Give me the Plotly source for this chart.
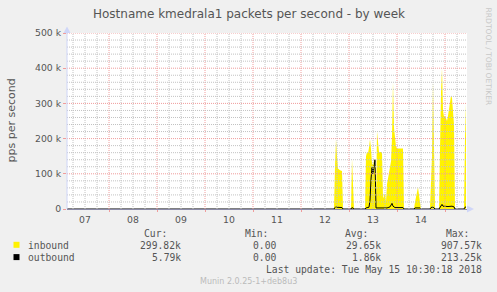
import plotly.graph_objects as go
import pandas as pd

# ---------------- data ----------------
title_text = "Hostname kmedrala1 packets per second - by week"
y_title = "pps per second"
x_range = ["2018-05-07 03:00", "2018-05-15 11:00"]
y_tickvals = [0, 100000, 200000, 300000, 400000, 500000]
y_ticktext = ["0", "100 k", "200 k", "300 k", "400 k", "500 k"]

inbound_times = [
    "2018-05-07 03:00", "2018-05-12 16:30", "2018-05-12 17:00", "2018-05-12 17:30",
    "2018-05-12 18:00", "2018-05-12 18:30", "2018-05-12 19:30", "2018-05-12 20:30",
    "2018-05-12 21:00", "2018-05-13 01:00", "2018-05-13 01:30", "2018-05-13 02:00",
    "2018-05-13 02:30", "2018-05-13 08:00", "2018-05-13 08:30", "2018-05-13 09:00",
    "2018-05-13 09:30", "2018-05-13 10:00", "2018-05-13 10:30", "2018-05-13 11:00",
    "2018-05-13 11:30", "2018-05-13 12:00", "2018-05-13 12:30", "2018-05-13 13:00",
    "2018-05-13 13:30", "2018-05-13 14:00", "2018-05-13 14:30", "2018-05-13 15:00",
    "2018-05-13 16:30", "2018-05-13 17:00", "2018-05-13 18:00", "2018-05-13 18:30",
    "2018-05-13 19:00", "2018-05-13 20:00", "2018-05-13 21:00", "2018-05-13 21:30",
    "2018-05-13 22:00", "2018-05-13 22:30", "2018-05-13 23:00", "2018-05-13 23:30",
    "2018-05-14 00:00", "2018-05-14 03:00", "2018-05-14 03:30", "2018-05-14 08:30",
    "2018-05-14 09:00", "2018-05-14 09:30", "2018-05-14 10:00", "2018-05-14 10:30",
    "2018-05-14 11:00", "2018-05-14 11:30", "2018-05-14 12:00", "2018-05-14 16:30",
    "2018-05-14 17:00", "2018-05-14 17:30", "2018-05-14 18:00", "2018-05-14 18:30",
    "2018-05-14 19:00", "2018-05-14 21:00", "2018-05-14 21:30", "2018-05-14 22:00",
    "2018-05-14 22:30", "2018-05-14 23:00", "2018-05-14 23:30", "2018-05-15 00:00",
    "2018-05-15 00:30", "2018-05-15 01:00", "2018-05-15 01:30", "2018-05-15 02:00",
    "2018-05-15 02:30", "2018-05-15 03:00", "2018-05-15 03:30", "2018-05-15 04:00",
    "2018-05-15 04:30", "2018-05-15 05:00", "2018-05-15 09:30", "2018-05-15 10:00",
    "2018-05-15 10:30",
]
inbound_kpps = [
    0, 0, 120, 198,
    150, 115, 110, 108,
    0, 0, 143, 90,
    0, 0, 150, 162,
    158, 175, 198, 170,
    130, 125, 138, 140,
    0, 220, 185, 162,
    162, 30, 45, 20,
    70, 100, 135, 200,
    360, 230, 195, 178,
    172, 172, 0, 0,
    20, 35, 50, 62,
    40, 25, 0, 0,
    60, 150, 360, 120,
    0, 0, 180, 330,
    400, 280, 262, 265,
    258, 250, 265, 290,
    310, 322, 315, 270,
    240, 0, 0, 200,
    300,
]

outbound_times = [
    "2018-05-07 03:00", "2018-05-12 16:30", "2018-05-12 17:00", "2018-05-12 17:30",
    "2018-05-12 18:00", "2018-05-12 20:30", "2018-05-12 21:00", "2018-05-13 01:00",
    "2018-05-13 01:30", "2018-05-13 02:00", "2018-05-13 02:30", "2018-05-13 08:00",
    "2018-05-13 08:30", "2018-05-13 10:00", "2018-05-13 10:30", "2018-05-13 11:00",
    "2018-05-13 11:30", "2018-05-13 12:00", "2018-05-13 12:30", "2018-05-13 13:00",
    "2018-05-13 13:30", "2018-05-13 16:30", "2018-05-13 19:00", "2018-05-13 20:30",
    "2018-05-13 21:30", "2018-05-13 22:00", "2018-05-13 23:00", "2018-05-14 03:00",
    "2018-05-14 03:30", "2018-05-14 08:30", "2018-05-14 09:00", "2018-05-14 11:30",
    "2018-05-14 12:00", "2018-05-14 16:30", "2018-05-14 17:00", "2018-05-14 18:00",
    "2018-05-14 18:30", "2018-05-14 19:00", "2018-05-14 21:00", "2018-05-14 21:30",
    "2018-05-14 22:30", "2018-05-14 23:00", "2018-05-15 00:30", "2018-05-15 01:30",
    "2018-05-15 03:30", "2018-05-15 04:30", "2018-05-15 05:00", "2018-05-15 09:30",
    "2018-05-15 10:00", "2018-05-15 10:30",
]
outbound_kpps = [
    0, 0, 4, 7,
    5, 4, 0, 0,
    4, 3, 0, 0,
    3, 5, 25, 85,
    118, 100, 128, 140,
    3, 4, 3, 6,
    16, 8, 4, 4,
    0, 0, 3, 3,
    0, 0, 4, 6,
    4, 0, 0, 5,
    13, 8, 7, 7,
    8, 6, 0, 0,
    5, 5.79,
]

legend_names = ["inbound", "outbound"]
legend_colors = ["#FFF200", "#000000"]
stat_headers = ["Cur:", "Min:", "Avg:", "Max:"]
inbound_stats = ["299.82k", "0.00", "29.65k", "907.57k"]
outbound_stats = ["5.79k", "0.00", "1.86k", "213.25k"]
last_update = "Last update: Tue May 15 10:30:18 2018"
version_text = "Munin 2.0.25-1+deb8u3"
watermark = "RRDTOOL / TOBI OETIKER"

# ---------------- layout geometry (pixels) ----------------
W, H = 497, 292
PL, PR, PT, PB = 67, 467, 33, 209


def px(x):
    return (x - PL) / (PR - PL)


def py(y):
    return (PB - y) / (PB - PT)


SANS = "DejaVu Sans"
MONO = "DejaVu Sans Mono"
TXT = "#555555"
MAJOR = "#F09C9C"
MINOR = "#C2C2C2"
AXIS = "#CFD6F8"

fig = go.Figure()
fig.add_trace(go.Scatter(
    x=pd.to_datetime(inbound_times), y=[v * 1000 for v in inbound_kpps],
    mode="lines", fill="tozeroy", fillcolor=legend_colors[0],
    line=dict(width=0, color=legend_colors[0]), name=legend_names[0],
    hoverinfo="skip"))
fig.add_trace(go.Scatter(
    x=pd.to_datetime(outbound_times), y=[v * 1000 for v in outbound_kpps],
    mode="lines", line=dict(width=1, color=legend_colors[1]),
    name=legend_names[1], hoverinfo="skip"))

shapes = []
# grid drawn above the data, like rrdtool
t0 = pd.Timestamp(x_range[0])
t1 = pd.Timestamp(x_range[1])
t = t0.floor("6h")
while t <= t1:
    if t >= t0:
        major = (t.hour == 0)
        shapes.append(dict(type="line", xref="x", yref="paper", x0=t, x1=t,
                           y0=0, y1=1, layer="above",
                           line=dict(color=MAJOR if major else MINOR, width=1,
                                     dash="1px,1px")))
    t += pd.Timedelta(hours=6)
for v in range(0, 500001, 20000):
    if v == 0:
        continue
    major = (v % 100000 == 0)
    shapes.append(dict(type="line", xref="paper", yref="y", x0=0, x1=1,
                       y0=v, y1=v, layer="above",
                       line=dict(color=MAJOR if major else MINOR, width=1,
                                 dash="1px,1px")))

# axis arrows
shapes.append(dict(type="path", xref="paper", yref="paper", layer="above",
                   path=f"M {px(467)},{py(205.5)} L {px(474)},{py(209)} L {px(467)},{py(212.5)} Z",
                   fillcolor=AXIS, line=dict(width=0)))
shapes.append(dict(type="path", xref="paper", yref="paper", layer="above",
                   path=f"M {px(63.5)},{py(33)} L {px(67)},{py(26.5)} L {px(70.5)},{py(33)} Z",
                   fillcolor=AXIS, line=dict(width=0)))
shapes.append(dict(type="line", xref="paper", yref="paper", layer="above",
                   x0=px(67), x1=px(67), y0=py(209), y1=py(29),
                   line=dict(color=AXIS, width=1)))

# legend squares
for i, c in enumerate(legend_colors):
    yc = 244.8 + i * 12.3
    shapes.append(dict(type="rect", xref="paper", yref="paper",
                       x0=px(13.5), x1=px(19.5), y0=py(yc - 3), y1=py(yc + 3),
                       fillcolor=c, line=dict(width=0)))

ann = []
ann.append(dict(text=title_text, x=px(248.5), y=py(14), xref="paper", yref="paper",
                showarrow=False, xanchor="center", yanchor="middle",
                font=dict(family=SANS, size=12, color=TXT)))
ann.append(dict(text=y_title, x=px(11.5), y=py(120), xref="paper", yref="paper",
                showarrow=False, xanchor="center", yanchor="middle", textangle=-90,
                font=dict(family=SANS, size=11, color=TXT)))
ann.append(dict(text=watermark, x=px(488.5), y=py(57), xref="paper", yref="paper",
                showarrow=False, xanchor="center", yanchor="middle", textangle=90,
                font=dict(family=SANS, size=7.6, color="#C8C8C8")))

head_right = [167.5, 268.5, 368.5, 470]
val_right = [181.5, 276.5, 382, 483]
for h, xr in zip(stat_headers, head_right):
    ann.append(dict(text=h, x=px(xr), y=py(233.5), xref="paper", yref="paper",
                    showarrow=False, xanchor="right", yanchor="middle",
                    font=dict(family=MONO, size=9.7, color=TXT), borderpad=0))
for row, (name, stats) in enumerate(zip(legend_names, [inbound_stats, outbound_stats])):
    yc = 245 + row * 12.3
    ann.append(dict(text=name, x=px(26.5), y=py(yc), xref="paper", yref="paper",
                    showarrow=False, xanchor="left", yanchor="middle",
                    font=dict(family=MONO, size=9.7, color=TXT), borderpad=0))
    for s, xr in zip(stats, val_right):
        ann.append(dict(text=s, x=px(xr), y=py(yc), xref="paper", yref="paper",
                        showarrow=False, xanchor="right", yanchor="middle",
                        font=dict(family=MONO, size=9.7, color=TXT), borderpad=0))
ann.append(dict(text=last_update.replace(" ", "&nbsp;"), x=px(483), y=py(269.5),
                xref="paper", yref="paper", showarrow=False, xanchor="right",
                yanchor="middle", font=dict(family=MONO, size=9.7, color=TXT),
                borderpad=0))
ann.append(dict(text=version_text, x=px(248.5), y=py(281), xref="paper", yref="paper",
                showarrow=False, xanchor="center", yanchor="middle",
                font=dict(family=SANS, size=8, color="#BBBBBB")))

fig.update_layout(
    width=W, height=H,
    margin=dict(l=PL, r=W - PR, t=PT, b=H - PB, pad=0),
    paper_bgcolor="#F0F0F0", plot_bgcolor="#FFFFFF",
    showlegend=False, shapes=shapes, annotations=ann,
    xaxis=dict(range=x_range, type="date", tickmode="linear",
               tick0="2018-05-07 00:00", dtick=86400000, tickformat="%d",
               ticklabelmode="period", showgrid=False, zeroline=False,
               showline=True, linecolor="#8A8AA8", linewidth=1,
               ticks="outside", ticklen=2, tickcolor=MAJOR,
               tickfont=dict(family=SANS, size=9.3, color=TXT),
               fixedrange=True),
    yaxis=dict(range=[0, 500000], tickvals=y_tickvals, ticktext=y_ticktext,
               showgrid=False, zeroline=False, showline=False,
               ticks="outside", ticklen=3, tickcolor=MAJOR,
               tickfont=dict(family=SANS, size=9.3, color=TXT),
               fixedrange=True),
)

fig.write_html("out.html")
